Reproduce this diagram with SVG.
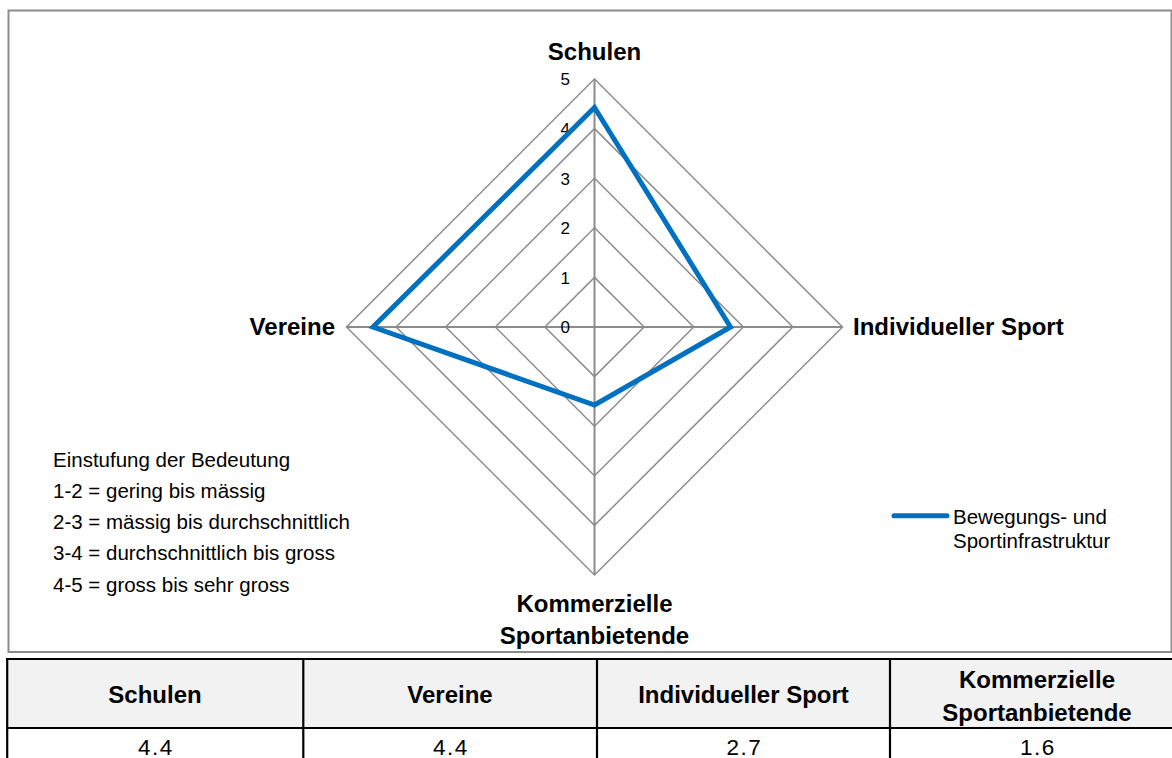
<svg xmlns="http://www.w3.org/2000/svg" width="1172" height="758" viewBox="0 0 1172 758">
<style>
.grid{fill:none;stroke:#8c8c8c;stroke-width:1.5}
.axis{stroke:#8c8c8c;stroke-width:2}
.tick{font-family:"Liberation Sans",Arial,sans-serif;font-size:17px;fill:#000;text-anchor:end}
.cat{font-family:"Liberation Sans",Arial,sans-serif;font-size:24px;font-weight:bold;fill:#000}
.note{font-family:"Liberation Sans",Arial,sans-serif;font-size:20.5px;fill:#000}
.th{font-family:"Liberation Sans",Arial,sans-serif;font-size:24px;font-weight:bold;fill:#000;text-anchor:middle}
.td{font-family:"Liberation Sans",Arial,sans-serif;font-size:22.5px;fill:#000;text-anchor:middle;letter-spacing:1.5px}
.tl{stroke:#000;stroke-width:2.2}
</style>
<rect width="1172" height="758" fill="#fff"/>
<rect id="chart-frame" x="8.5" y="10.5" width="1163" height="641.5" fill="#fff" stroke="#8c8c8c" stroke-width="2"/>
<g id="grid">
<polygon class="grid" points="594.5,79 842.5,327 594.5,575 346.5,327"/>
<polygon class="grid" points="594.5,128.6 792.9,327 594.5,525.4 396.1,327"/>
<polygon class="grid" points="594.5,178.2 743.3,327 594.5,475.8 445.7,327"/>
<polygon class="grid" points="594.5,227.8 693.7,327 594.5,426.2 495.3,327"/>
<polygon class="grid" points="594.5,277.4 644.1,327 594.5,376.6 544.9,327"/>
<line class="axis" x1="594.5" y1="79" x2="594.5" y2="575"/>
<line class="axis" x1="346.5" y1="327" x2="842.5" y2="327"/>
</g>
<g id="ticks">
<text class="tick" x="570" y="333">0</text>
<text class="tick" x="570" y="283.5">1</text>
<text class="tick" x="570" y="234">2</text>
<text class="tick" x="570" y="184.5">3</text>
<text class="tick" x="570" y="135">4</text>
<text class="tick" x="570" y="85">5</text>
</g>
<g id="series">
<polygon points="594.5,107.5 730.5,327 594.5,405 373,327" fill="none" stroke="#0070c0" stroke-width="5" stroke-linejoin="miter"/>
</g>
<g id="node-schulen"><text class="cat" x="594.5" y="60" text-anchor="middle">Schulen</text></g>
<g id="node-vereine"><text class="cat" x="335" y="335" text-anchor="end">Vereine</text></g>
<g id="node-individueller"><text class="cat" x="853" y="335">Individueller Sport</text></g>
<g id="node-kommerzielle"><text class="cat" x="594.5" y="612" text-anchor="middle">Kommerzielle</text><text class="cat" x="594.5" y="644" text-anchor="middle">Sportanbietende</text></g>
<g id="note">
<text class="note" x="53" y="467">Einstufung der Bedeutung</text>
<text class="note" x="53" y="498">1-2 = gering bis mässig</text>
<text class="note" x="53" y="529">2-3 = mässig bis durchschnittlich</text>
<text class="note" x="53" y="560">3-4 = durchschnittlich bis gross</text>
<text class="note" x="53" y="592">4-5 = gross bis sehr gross</text>
</g>
<g id="legend">
<line x1="894" y1="515.7" x2="947" y2="515.7" stroke="#0070c0" stroke-width="5" stroke-linecap="round"/>
<text class="note" x="953" y="523.5">Bewegungs- und</text>
<text class="note" x="953" y="548">Sportinfrastruktur</text>
</g>
<g id="table">
<rect x="7" y="659" width="1180" height="69" fill="#f2f2f2"/>
<line class="tl" x1="6" y1="659" x2="1172" y2="659"/>
<line class="tl" x1="6" y1="728" x2="1172" y2="728"/>
<line class="tl" x1="7.2" y1="658" x2="7.2" y2="758"/>
<line class="tl" x1="303.3" y1="658" x2="303.3" y2="758"/>
<line class="tl" x1="597" y1="658" x2="597" y2="758"/>
<line class="tl" x1="890" y1="658" x2="890" y2="758"/>
<text class="th" x="155" y="703">Schulen</text>
<text class="th" x="450" y="703">Vereine</text>
<text class="th" x="743.5" y="703">Individueller Sport</text>
<text class="th" x="1037" y="688">Kommerzielle</text>
<text class="th" x="1037" y="721">Sportanbietende</text>
<text class="td" x="156" y="755">4.4</text>
<text class="td" x="451" y="755">4.4</text>
<text class="td" x="744.5" y="755">2.7</text>
<text class="td" x="1038" y="755">1.6</text>
</g>
</svg>
